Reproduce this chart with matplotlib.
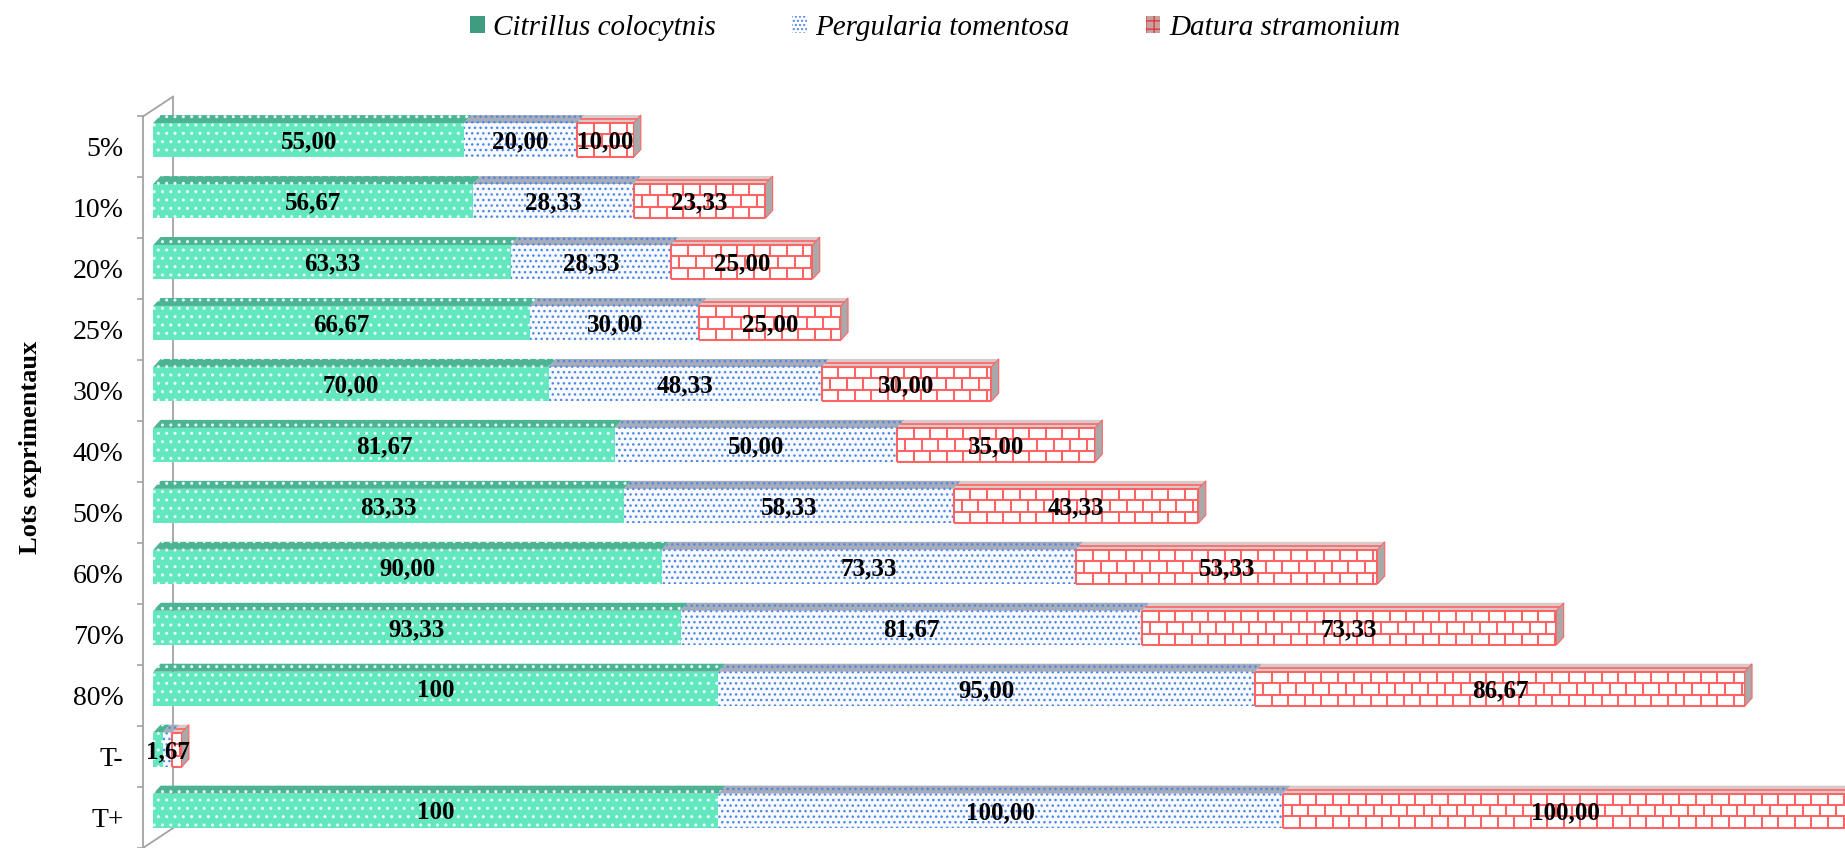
import matplotlib
matplotlib.use("Agg")
from matplotlib import pyplot as plt
from matplotlib.patches import Polygon, Patch
from matplotlib.collections import LineCollection

plt.rcParams["font.family"] = ["Liberation Serif", "DejaVu Serif"]
plt.rcParams["hatch.linewidth"] = 1.0

cats = ["5%", "10%", "20%", "25%", "30%", "40%", "50%", "60%", "70%", "80%", "T-", "T+"]
citrillus = [55.00, 56.67, 63.33, 66.67, 70.00, 81.67, 83.33, 90.00, 93.33, 100, 1.67, 100]
pergularia = [20.00, 28.33, 28.33, 30.00, 48.33, 50.00, 58.33, 73.33, 81.67, 95.00, 1.67, 100.00]
datura = [10.00, 23.33, 25.00, 25.00, 30.00, 35.00, 43.33, 53.33, 73.33, 86.67, 1.67, 100.00]
names = ["Citrillus colocytnis", "Pergularia tomentosa", "Datura stramonium"]

W, H = 1845, 848
fig = plt.figure(figsize=(W / 100, H / 100), dpi=100)

# pixel layout of the plot box
px_x0, px_per_unit = 153.3, 5.65
px_y0, px_per_cat = 147.3, 61.3
L, T = 143, 86
ax = fig.add_axes([L / W, 0, (W - L) / W, (H - T) / H])
ax.set_xlim((L - px_x0) / px_per_unit, (W - px_x0) / px_per_unit)
ax.set_ylim((H - px_y0) / px_per_cat, (T - px_y0) / px_per_cat)

# 3d look: face height, shift and depth
bh = 34.5 / px_per_cat
yoff = -6.8 / px_per_cat
dx = 7.3 / px_per_unit
dy = 8.0 / px_per_cat

wall = "#a3a3a3"
for s in ["top", "right", "bottom"]:
    ax.spines[s].set_visible(False)
ax.spines["left"].set_color(wall)
ax.spines["left"].set_linewidth(1.3)
ax.spines["left"].set_bounds(-0.5, 12)
ax.set_xticks([])
ax.set_yticks(range(len(cats)))
ax.set_yticklabels(cats, fontsize=20)
ax.set_yticks([k - 0.5 for k in range(len(cats) + 1)], minor=True)
ax.tick_params(axis="y", which="major", length=0, pad=14)
ax.tick_params(axis="y", which="minor", length=4.5, color=wall, width=1.2)

# back wall edge
xf = ax.get_xlim()[0]
xb = (173 - px_x0) / px_per_unit
dwy = 20 / px_per_cat
ax.plot([xb, xb], [-0.5 - dwy, 11.5 - dwy], color=wall, lw=1.3, zorder=1)
ax.plot([xf, xb], [-0.5, -0.5 - dwy], color=wall, lw=1.3, zorder=1, clip_on=False)
ax.plot([xf, xb], [11.5, 11.5 - dwy], color=wall, lw=1.3, zorder=1, clip_on=False)

styles = [
    dict(face="#63e7bf", top="#4cb393", hatch="..", hcol="#e9fff6"),
    dict(face="#f7faff", top="#a6acba", hatch="...", hcol="#4f87e6"),
    dict(face="#ffffff", top="#d9c9c9", hatch=None, hcol="#ff5e5e"),
]


def bricks(x0, x1, yt, yb, rows=3, bw=16.5 / px_per_unit):
    segs = []
    rh = (yb - yt) / rows
    for r in range(rows + 1):
        segs.append([(x0, yt + r * rh), (x1, yt + r * rh)])
    for r in range(rows):
        xx = x0 + (bw / 2 if r % 2 else bw)
        while xx < x1:
            segs.append([(xx, yt + r * rh), (xx, yt + (r + 1) * rh)])
            xx += bw
    segs.append([(x0, yt), (x0, yb)])
    segs.append([(x1, yt), (x1, yb)])
    ax.add_collection(LineCollection(segs, colors="#ff6464", linewidths=1.5, zorder=3))


def fmt(v):
    return "{:.2f}".format(v).replace(".", ",")


for i in range(len(cats)):
    vals = [citrillus[i], pergularia[i], datura[i]]
    yc = i + yoff
    yt, yb = yc - bh / 2, yc + bh / 2
    left = 0.0
    for k, v in enumerate(vals):
        st = styles[k]
        x0, x1 = left, left + v
        ax.add_patch(Polygon([(x0, yb), (x1, yb), (x1, yt), (x0, yt)], closed=True,
                             facecolor=st["face"], edgecolor=st["hcol"], lw=0,
                             hatch=st["hatch"], zorder=2))
        ax.add_patch(Polygon([(x0, yt), (x1, yt), (x1 + dx, yt - dy), (x0 + dx, yt - dy)],
                             closed=True, facecolor=st["top"], edgecolor=st["hcol"], lw=0,
                             hatch=st["hatch"], zorder=2))
        if k == 2:
            bricks(x0, x1, yt, yb)
            ax.plot([x0 + dx / 2, x1 + dx / 2], [yt - dy / 2, yt - dy / 2],
                    color="#ff6464", lw=1.2, zorder=3)
        left = x1
    # right side of the stack
    ax.add_patch(Polygon([(left, yt), (left + dx, yt - dy), (left + dx, yb - dy), (left, yb)],
                         closed=True, facecolor="#a9a9a9", edgecolor="#ff6464", lw=0.8, zorder=3))

    # value labels
    if cats[i] == "T-":
        ax.text(vals[0] + vals[1] / 2, yc + 0.03, fmt(vals[1]), ha="center", va="center",
                fontsize=18, fontweight="bold", zorder=5)
        continue
    left = 0.0
    for k, v in enumerate(vals):
        txt = "100" if (k == 0 and v == 100) else fmt(v)
        ax.text(left + v / 2, yc + 0.03, txt, ha="center", va="center",
                fontsize=18, fontweight="bold", zorder=5)
        left += v

fig.text(30 / W, 1 - 447 / H, "Lots exprimentaux", rotation=90, ha="center", va="center",
         fontsize=19, fontweight="bold")

handles = [
    Patch(facecolor="#3f9c80", edgecolor="#3f9c80", lw=0),
    Patch(facecolor="#ffffff", edgecolor="#4f87e6", lw=0, hatch="...."),
    Patch(facecolor="#c9a0a0", edgecolor="#d83c3c", lw=0, hatch="++"),
]
fig.legend(handles, names, loc="center", bbox_to_anchor=(935 / W, 1 - 28 / H), ncol=3,
           frameon=False, handlelength=0.5, handleheight=0.5, handletextpad=0.3,
           columnspacing=2.6, prop={"style": "italic", "size": 21})

fig.savefig("out.png", dpi=100)
